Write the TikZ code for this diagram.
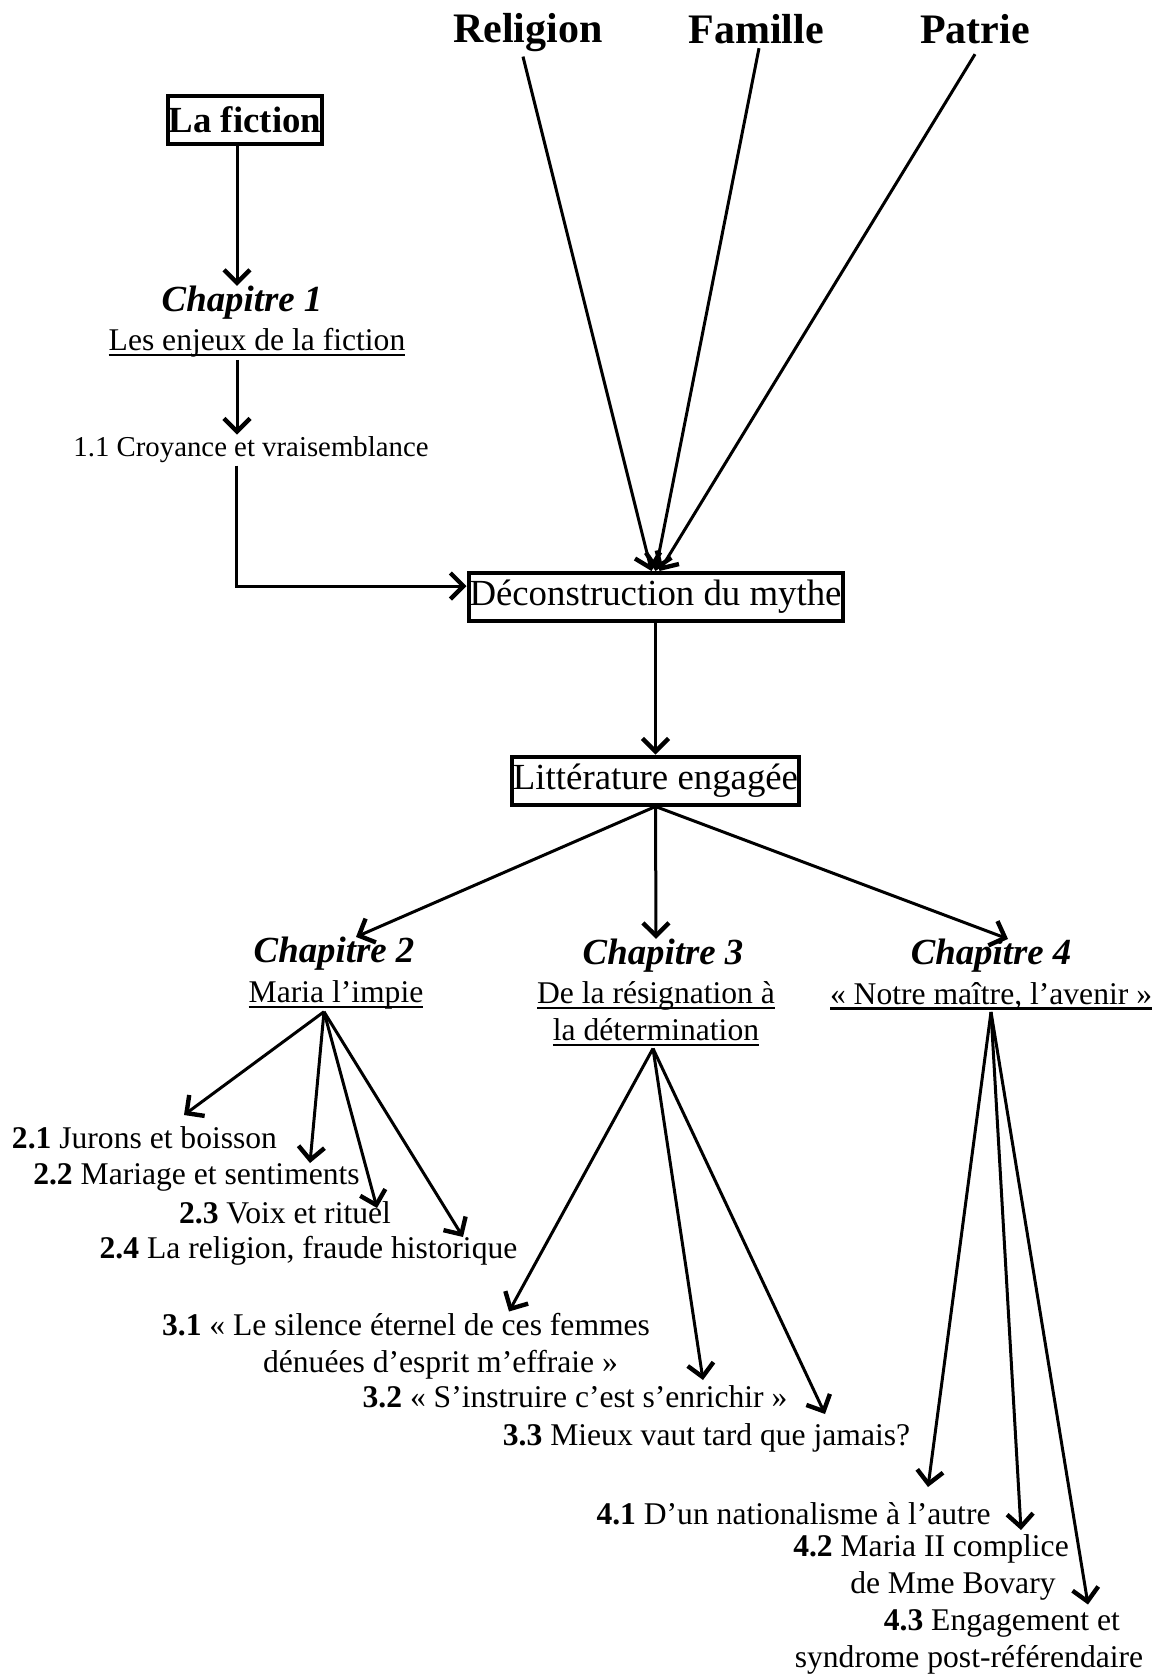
\documentclass[tikz,border=0pt]{standalone}
\usepackage{fontspec}
\setmainfont{Liberation Serif}
\usetikzlibrary{arrows.meta,calc}
\newcommand\ulin[1]{\setbox0\hbox{#1}\rlap{\rule[-2.6pt]{\wd0}{1.1pt}}\box0}

\begin{document}
\begin{tikzpicture}[x=0.5pt,y=-0.5pt,
	arr/.style={-{Straight Barb[length=6.5pt,width=13pt,line width=2.2pt]},line width=1.5pt},
	box/.style={draw,line width=2pt,inner xsep=0.5pt,inner ysep=0pt,minimum height=24pt,font=\fontsize{18.4}{22}\selectfont},
	top/.style={font=\fontsize{21}{25}\selectfont\bfseries,inner sep=2pt},
	chap/.style={font=\fontsize{18.4}{22}\selectfont\bfseries\itshape,inner sep=0pt},
	sub/.style={font=\fontsize{15.8}{18.5}\selectfont,inner sep=1pt,align=center},
	item/.style={font=\fontsize{15.8}{18.5}\selectfont,inner sep=0pt,align=left}]
	\useasboundingbox (0,0) rectangle (1160,1676);
	
	\node[top] (rel) at (528,33) {Religion};
	\node[top] (fam) at (756,29) {Famille};
	\node[top] (pat) at (975,29) {Patrie};
	
	\node[box,font=\fontsize{18.4}{22}\selectfont\bfseries] (fic) at (245,120) {La fiction};
	\node[chap] (ch1) at (242,303) {Chapitre 1};
	\node[sub] (ch1sub) at (257,343) {\ulin{Les enjeux de la fiction}};
	\node[font=\fontsize{14.4}{17}\selectfont,inner sep=1pt] (t11) at (251,450) {1.1 Croyance et vraisemblance};
	
	\node[box] (dec) at (655.5,597) {Déconstruction du mythe};
	\node[box] (lit) at (655.5,780.5) {Littérature engagée};
	
	\node[chap] (ch2) at (334,954) {Chapitre 2};
	\node[sub] (ch2sub) at (336,995) {\ulin{Maria l'impie}};
	\node[chap] (ch3) at (663,956) {Chapitre 3};
	\node[sub] (ch3sub) at (656,1014) {\ulin{De la résignation à}\\\ulin{la détermination}};
	\node[chap] (ch4) at (991,956) {Chapitre 4};
	\node[sub] (ch4sub) at (991,996) {\ulin{« Notre maître, l'avenir »}};
	
	\node[item] (t21) at (144.5,1138) {\textbf{2.1} Jurons et boisson};
	\node[item] (t22) at (196.5,1177) {\textbf{2.2} Mariage et sentiments};
	\node[item] (t23) at (285,1213) {\textbf{2.3} Voix et rituel};
	\node[item] (t24) at (308.5,1251) {\textbf{2.4} La religion, fraude historique};
	
	\node[item] (t31) at (406,1346) {\textbf{3.1} « Le silence éternel de ces femmes\\\hspace*{50.5pt}dénuées d'esprit m'effraie »};
	\node[item] (t32) at (575,1397) {\textbf{3.2} « S'instruire c'est s'enrichir »};
	\node[item] (t33) at (706.5,1438) {\textbf{3.3} Mieux vaut tard que jamais?};
	
	\node[item] (t41) at (793.5,1514) {\textbf{4.1} D'un nationalisme à l'autre};
	\node[item] (t42) at (931,1567.5) {\textbf{4.2} Maria II complice\\\hspace*{28.5pt}de Mme Bovary};
	\node[item] (t43) at (969,1642) {\hspace*{44.5pt}\textbf{4.3} Engagement et\\syndrome post-référendaire};
	
	\draw[arr] ([xshift=-2.5pt]rel.south) -- ([xshift=-2pt]dec.north);
	\draw[arr] ([xshift=1.5pt]fam.south) -- (dec.north);
	\draw[arr] ([yshift=-3pt]pat.south) -- ([xshift=2pt]dec.north);
	
	\draw[arr] ([xshift=-4pt]fic.south) -- ([xshift=-2.5pt]ch1.north);
	\draw[arr] ([xshift=-10pt]ch1sub.south) -- ([xshift=-7pt]t11.north);
	\draw[arr] ([xshift=-7.5pt]t11.south) |- ([yshift=5.5pt]dec.west);
	
	\draw[arr] (dec.south) -- (lit.north);
	\draw[arr] (lit.south) -- ([xshift=11pt]ch2.north);
	\draw[arr] (lit.south) -- ([xshift=-3.5pt]ch3.north);
	\draw[arr] (lit.south) -- ([xshift=8.5pt]ch4.north);
	
	\draw[arr] ([xshift=-6pt]ch2sub.south) -- ($(t21)+(39.5,-23)$);
	\draw[arr] ([xshift=-6pt]ch2sub.south) -- ($(t22)+(113.5,-14)$);
	\draw[arr] ([xshift=-6pt]ch2sub.south) -- ($(t23)+(92,-5)$);
	\draw[arr] ([xshift=-6pt]ch2sub.south) -- ($(t24)+(154.5,-14)$);
	
	\draw[arr] ([xshift=-1.5pt]ch3sub.south) -- ($(t31)+(103,-34.5)$);
	\draw[arr] ([xshift=-1.5pt]ch3sub.south) -- ($(t32)+(128,-17)$);
	\draw[arr] ([xshift=-1.5pt]ch3sub.south) -- ($(t33)+(118.5,-24)$);
	
	\draw[arr] (ch4sub.south) -- ($(t41)+(134.5,-27)$);
	\draw[arr] (ch4sub.south) -- ($(t42)+(90,-37.5)$);
	\draw[arr] (ch4sub.south) -- ($(t43)+(119,-37.5)$);
\end{tikzpicture}
\end{document}
